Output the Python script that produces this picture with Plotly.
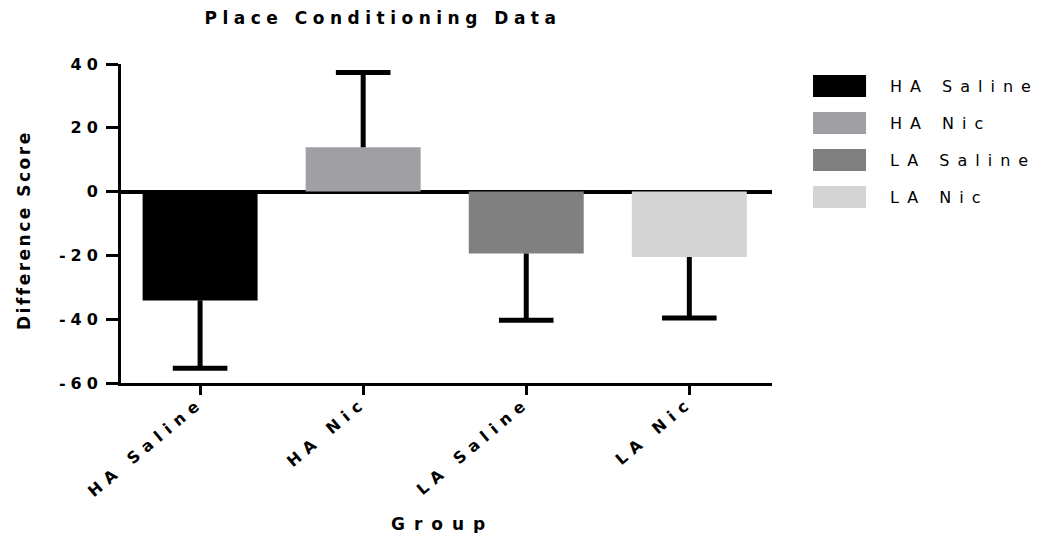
import plotly.graph_objects as go

# ---- data ----
groups = ["HA Saline", "HA Nic", "LA Saline", "LA Nic"]
means = [-34.1, 13.9, -19.4, -20.5]
errors = [21.3, 23.4, 20.9, 19.1]
colors = ["#000000", "#a09fa4", "#808080", "#d4d4d4"]
y_ticks = [-60, -40, -20, 0, 20, 40]
title_text = "Place Conditioning Data"
y_title = "Difference Score"
x_title = "Group"

# the page body has an 8px margin; work in page pixels and convert
OFF = 8
W, H = 1046 - 2 * OFF, 541 - 2 * OFF
PL, PR, PT, PB = 121, 771.7, 64, 382.8   # plot area in page pixels
L, T = PL - OFF, PT - OFF
R = W - (PR - OFF)
B = H - (PB - OFF)
pw = PR - PL
ph = PB - PT

def px(xp):
    return (xp - PL) / pw

def py(yp):
    return (PB - yp) / ph

def sp(text, ls):
    return f'<span style="letter-spacing:{ls}px">{text}</span>'

fig = go.Figure()

for g, m, e, c in zip(groups, means, errors, colors):
    up = e if m >= 0 else 0
    dn = e if m < 0 else 0
    fig.add_trace(go.Bar(
        x=[g], y=[m], name=g, width=0.705,
        marker=dict(color=c, line=dict(width=0)),
        error_y=dict(type="data", symmetric=False, array=[up], arrayminus=[dn],
                     width=0, thickness=5, color="black"),
        showlegend=False,
    ))

# caps at the outer end of each error bar
cap_y = [m + e if m >= 0 else m - e for m, e in zip(means, errors)]
fig.add_trace(go.Scatter(
    x=groups, y=cap_y, mode="markers", showlegend=False, hoverinfo="skip",
    marker=dict(symbol="line-ew", size=39, color="black",
                line=dict(width=5, color="black")),
))

fig.update_layout(
    width=W, height=H,
    margin=dict(l=L, r=R, t=T, b=B, pad=0),
    paper_bgcolor="white", plot_bgcolor="white",
    barmode="overlay",
    font=dict(family="DejaVu Sans", color="black"),
    title=dict(text=sp(title_text, 5.5), x=(383 - OFF) / W, xanchor="center",
               y=1 - (18 - OFF) / H, yanchor="middle",
               font=dict(size=17, weight="bold", family="DejaVu Sans")),
)

fig.update_xaxes(
    type="category", range=[-0.485, 3.507],
    showline=True, linewidth=3, linecolor="black",
    ticks="outside", ticklen=9, tickwidth=3, tickcolor="black",
    tickmode="array", tickvals=groups,
    ticktext=[sp(g, 6.5) for g in groups],
    tickangle=-40, ticklabelstandoff=-8,
    tickfont=dict(size=16, weight="bold", family="DejaVu Sans"),
    showgrid=False, zeroline=False,
)
fig.update_yaxes(
    range=[-60, 40],
    showline=True, linewidth=3, linecolor="black",
    ticks="outside", ticklen=12, tickwidth=3, tickcolor="black",
    tickmode="array", tickvals=y_ticks,
    ticktext=[sp(str(v), 5) for v in y_ticks],
    tickfont=dict(size=16, weight="bold", family="DejaVu Sans"),
    showgrid=False,
    zeroline=True, zerolinewidth=4, zerolinecolor="black",
)

# axis titles
fig.add_annotation(
    xref="paper", yref="paper", x=px(24), y=py(230),
    text=sp(y_title, 2.5), textangle=-90, showarrow=False,
    xanchor="center", yanchor="middle",
    font=dict(size=17, weight="bold", family="DejaVu Sans"),
)
fig.add_annotation(
    xref="paper", yref="paper", x=px(442), y=py(524),
    text=sp(x_title, 9), showarrow=False,
    xanchor="center", yanchor="middle",
    font=dict(size=17, weight="bold", family="DejaVu Sans"),
)

# legend (manual, large swatches)
leg_x0, leg_x1 = 812.7, 865.7
leg_tops = [75, 112, 149, 186]
for g, c, top in zip(groups, colors, leg_tops):
    fig.add_shape(type="rect", xref="paper", yref="paper",
                  x0=px(leg_x0), x1=px(leg_x1),
                  y0=py(top), y1=py(top + 22),
                  fillcolor=c, line=dict(width=0))
    fig.add_annotation(xref="paper", yref="paper",
                       x=px(888), y=py(top + 11),
                       text=sp(g, 8), showarrow=False,
                       xanchor="left", yanchor="middle",
                       font=dict(size=16, family="DejaVu Sans"))

fig.write_html("out.html")
